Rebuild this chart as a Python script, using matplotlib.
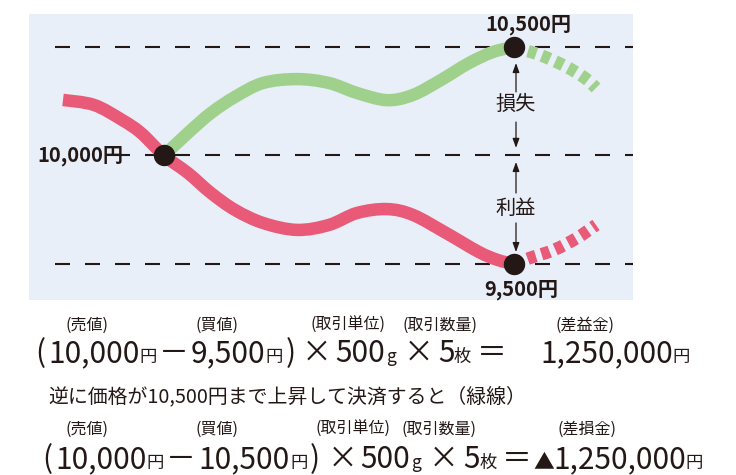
import matplotlib
matplotlib.use("Agg")
import matplotlib.pyplot as plt
from matplotlib.path import Path
from matplotlib.patches import PathPatch

plt.rcParams['font.family'] = ['Noto Sans CJK JP', 'DejaVu Sans']
plt.rcParams['lines.scale_dashes'] = False

# ---- data (x = time position, y = price in yen) ----
red_x = [63, 94, 122, 141, 164, 188, 211, 235, 263, 297, 329, 357, 387, 413, 446, 479, 498, 514]
red_y = [10256, 10233, 10164, 10104, 10000, 9919, 9827, 9749, 9689, 9657, 9680, 9735, 9753, 9726, 9643, 9555, 9518, 9500]
red_tail_x = [514, 530, 554, 577, 596]
red_tail_y = [9500, 9528, 9565, 9620, 9680]
green_x = [164, 188, 211, 235, 263, 297, 329, 357, 387, 413, 441, 469, 493, 514]
green_y = [10000, 10104, 10196, 10270, 10334, 10352, 10334, 10288, 10255, 10279, 10348, 10426, 10477, 10500]
green_tail_x = [514, 540, 565, 585, 596]
green_tail_y = [10500, 10463, 10412, 10357, 10311]
level_prices = [10500, 10000, 9500]
dot_x = [164, 514, 514]
dot_y = [10000, 10500, 9500]

W, H = 736, 475
RED = '#E85A78'
GREEN = '#A0D18C'
BG = '#E8EFF8'
INK = '#231815'

fig = plt.figure(figsize=(W / 100, H / 100), dpi=100)
renderer = fig.canvas.get_renderer()


def fx(x):
    return x / W


def fy(y):
    return 1 - y / H


ax = fig.add_axes([fx(29), fy(300), (633 - 29) / W, (300 - 14) / H])
ax.set_facecolor(BG)
ax.set_xlim(29, 633)
ax.set_ylim(9334, 10652)
ax.set_xticks([])
ax.set_yticks([])
for s in ax.spines.values():
    s.set_visible(False)


def smooth_path(xs, ys):
    """Catmull-Rom curve through the given points, drawn as cubic Bezier segments."""
    pts = list(zip(xs, ys))
    n = len(pts)
    verts = [pts[0]]
    codes = [Path.MOVETO]
    for i in range(n - 1):
        p0 = pts[i - 1] if i > 0 else pts[i]
        p1 = pts[i]
        p2 = pts[i + 1]
        p3 = pts[i + 2] if i + 2 < n else pts[i + 1]
        c1 = (p1[0] + (p2[0] - p0[0]) / 6, p1[1] + (p2[1] - p0[1]) / 6)
        c2 = (p2[0] - (p3[0] - p1[0]) / 6, p2[1] - (p3[1] - p1[1]) / 6)
        verts += [c1, c2, p2]
        codes += [Path.CURVE4] * 3
    return Path(verts, codes)


# reference levels
starts = [55, 115, 55]
for p, s in zip(level_prices, starts):
    ax.plot([s, 633], [p, p], color=INK, lw=1.5, dashes=(10.8, 10.8), zorder=1)

LW = 9.0
ax.add_patch(PathPatch(smooth_path(red_x, red_y), fill=False, edgecolor=RED, lw=LW,
                       capstyle='butt', joinstyle='round', zorder=2))
ax.add_patch(PathPatch(smooth_path(green_x, green_y), fill=False, edgecolor=GREEN, lw=LW,
                       capstyle='butt', joinstyle='round', zorder=3))
ax.add_patch(PathPatch(smooth_path(red_tail_x, red_tail_y), fill=False, edgecolor=RED, lw=LW,
                       capstyle='butt', linestyle=(0, (6.2, 4.3)), zorder=2))
ax.add_patch(PathPatch(smooth_path(green_tail_x, green_tail_y), fill=False, edgecolor=GREEN, lw=LW,
                       capstyle='butt', linestyle=(0, (6.2, 4.3)), zorder=2))
ax.plot(dot_x, dot_y, 'o', color=INK, ms=14.4, zorder=5)

# arrows with labels
arr = dict(arrowstyle='-|>,head_length=0.55,head_width=0.2', color=INK, lw=0.9, shrinkA=0, shrinkB=0)
ax.annotate('', xy=(516, 10426), xytext=(516, 10293), arrowprops=arr)
ax.annotate('', xy=(516, 10035), xytext=(516, 10154), arrowprops=arr)
ax.annotate('', xy=(516, 9970), xytext=(516, 9827), arrowprops=arr)
ax.annotate('', xy=(516, 9555), xytext=(516, 9689), arrowprops=arr)
ax.text(516, 10233, '損失', ha='center', va='center', fontsize=14.5, color=INK)
ax.text(516, 9758, '利益', ha='center', va='center', fontsize=14.5, color=INK)

# price labels
ax.text(528, 10000 + (155.5 - 25) * 500 / 108.5, '10,500円', ha='center', va='center',
        fontsize=14.5, fontweight='bold', color=INK)
ax.text(37, 10000, '10,000円', ha='left', va='center', fontsize=14.5, fontweight='bold', color=INK)
ax.text(521, 10000 + (155.5 - 290) * 500 / 108.5, '9,500円', ha='center', va='center',
        fontsize=14.5, fontweight='bold', color=INK)

# ---- formulas below ----
BIG, SMALL, NOTE = 21.5, 12.5, 11.5
CJK = ['Noto Sans CJK JP', 'DejaVu Sans']


def formula(pieces, base, x_start, x_end):
    """pieces: (gap_before, text, size). Laid out left to right, spread to span x_start..x_end."""
    texts, widths = [], []
    for gap, s, sz in pieces:
        t = fig.text(0, fy(base), s, fontsize=sz, color=INK, ha='left', va='baseline', family=CJK)
        texts.append(t)
        widths.append(t.get_window_extent(renderer).width)
    gaps = [p[0] for p in pieces]
    gaps[0] = 0
    natural = sum(widths) + sum(gaps)
    extra = (x_end - x_start) - natural
    weights = [(g + 2) if i > 0 else 0 for i, g in enumerate(gaps)]
    wsum = sum(weights)
    x = x_start
    for t, w, g, wt in zip(texts, widths, gaps, weights):
        x += g + extra * wt / wsum
        t.set_x(fx(x))
        x += w


def note(x, y, s):
    fig.text(fx(x), fy(y), s, fontsize=NOTE, color=INK, ha='center', va='center', family=CJK)


# line 1
note(87, 325, '(売値)')
note(217, 325, '(買値)')
note(348, 325, '(取引単位)')
note(440, 325, '(取引数量)')
note(585, 325, '(差益金)')
formula([(0, '(', BIG), (5, '10,000', BIG), (0, '円', SMALL), (4, '－', BIG),
         (4, '9,500', BIG), (1, '円', SMALL), (4, ')', BIG), (10, '×', BIG),
         (5, '500', BIG), (2, 'g', SMALL), (12, '×', BIG), (7, '5', BIG),
         (0, '枚', SMALL), (8, '＝', BIG), (48, '1,250,000', BIG), (0, '円', SMALL)], 362, 35, 690)

# line 3
fig.text(fx(48), fy(397), '逆に価格が10,500円まで上昇して決済すると（緑線）', fontsize=14.3,
         color=INK, ha='left', va='center', family=CJK)

# line 4
note(87, 429, '(売値)')
note(217, 429, '(買値)')
note(353, 429, '(取引単位)')
note(439, 429, '(取引数量)')
note(587, 429, '(差損金)')
formula([(0, '(', BIG), (5, '10,000', BIG), (0, '円', SMALL), (4, '－', BIG),
         (4, '10,500', BIG), (1, '円', SMALL), (4, ')', BIG), (10, '×', BIG),
         (5, '500', BIG), (2, 'g', SMALL), (10, '×', BIG), (7, '5', BIG),
         (0, '枚', SMALL), (8, '＝', BIG), (2, '▲', 15), (0, '1,250,000', BIG),
         (0, '円', SMALL)], 468, 42, 703)

fig.savefig('out.png', dpi=100)
